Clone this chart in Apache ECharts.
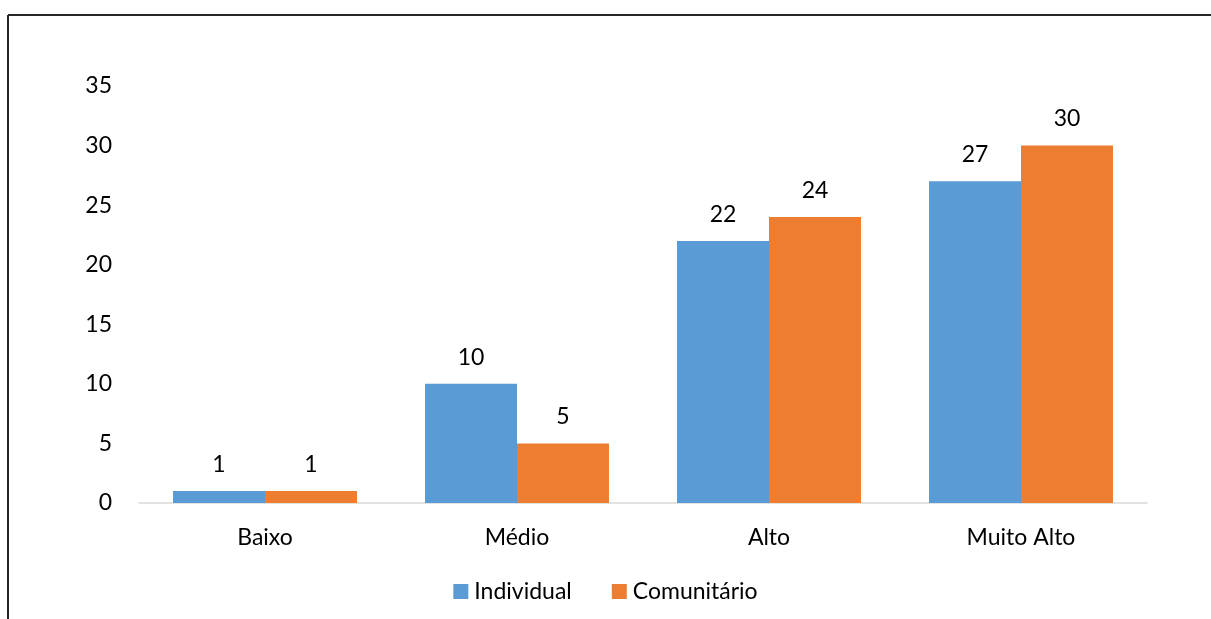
<!DOCTYPE html>
<html>
<head>
<meta charset="utf-8">
<script src="https://cdn.jsdelivr.net/npm/echarts@6/dist/echarts.min.js"></script>
<style>
  html, body { margin: 0; padding: 0; background: #fff; }
  #chart { width: 1211px; height: 619px; }
</style>
</head>
<body>
<div id="chart"></div>
<script>
const categories = ['Baixo', 'Médio', 'Alto', 'Muito Alto'];
const individual = [1, 10, 22, 27];
const comunitario = [1, 5, 24, 30];
const seriesNames = ['Individual', 'Comunitário'];

const font = 'Lato, "Open Sans", sans-serif';
const fontSize = 23;
const textColor = '#000';

const chart = echarts.init(document.getElementById('chart'), null, { renderer: 'canvas' });

const valueLabel = {
  show: true,
  position: 'top',
  distance: 15,
  fontFamily: font,
  fontSize: fontSize,
  color: textColor
};

chart.setOption({
  animation: false,
  backgroundColor: '#fff',
  grid: { left: 139, right: 64, top: 86, bottom: 116, containLabel: false },
  // outer frame: top and left edges only
  graphic: [
    { type: 'line', shape: { x1: 8, y1: 15, x2: 1211, y2: 15 }, style: { stroke: '#262626', lineWidth: 2 } },
    { type: 'line', shape: { x1: 8, y1: 15, x2: 8, y2: 619 }, style: { stroke: '#262626', lineWidth: 2 } }
  ],
  legend: {
    data: seriesNames,
    bottom: 11,
    left: 'center',
    itemWidth: 15,
    itemHeight: 15,
    itemGap: 40,
    icon: 'rect',
    textStyle: { fontFamily: font, fontSize: fontSize, color: textColor, padding: [0, 0, 0, 1] }
  },
  xAxis: {
    type: 'category',
    data: categories,
    axisLine: { show: true, lineStyle: { color: '#d9d9d9', width: 1.5 } },
    axisTick: { show: false },
    axisLabel: { fontFamily: font, fontSize: fontSize, color: textColor, margin: 23 }
  },
  yAxis: {
    type: 'value',
    min: 0,
    max: 35,
    interval: 5,
    splitLine: { show: false },
    axisLine: { show: false },
    axisTick: { show: false },
    axisLabel: { fontFamily: font, fontSize: fontSize, color: textColor, margin: 27 }
  },
  series: [
    {
      name: seriesNames[0],
      type: 'bar',
      data: individual,
      barGap: '0%',
      barCategoryGap: '27%',
      itemStyle: { color: '#5B9BD5' },
      label: valueLabel
    },
    {
      name: seriesNames[1],
      type: 'bar',
      data: comunitario,
      barGap: '0%',
      barCategoryGap: '27%',
      itemStyle: { color: '#ED7D31' },
      label: valueLabel
    }
  ]
});
</script>
</body>
</html>
